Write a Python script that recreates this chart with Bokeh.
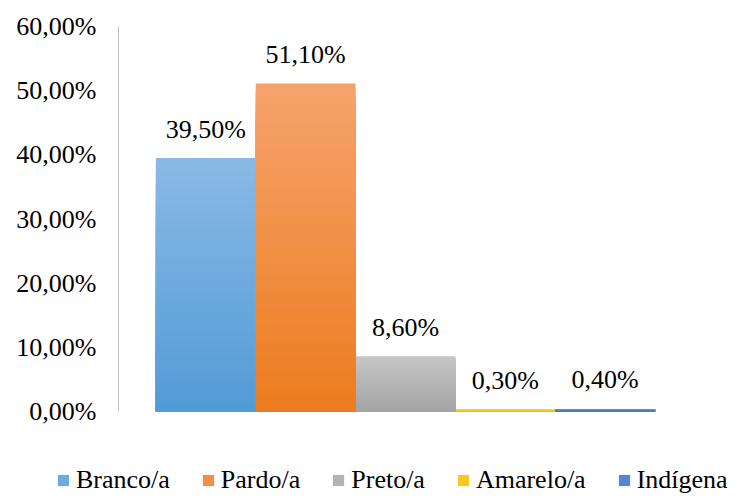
from bokeh.plotting import figure
from bokeh.models import ColumnDataSource, Range1d, FixedTicker, Legend, LegendItem
from bokeh.embed import file_html
from bokeh.resources import INLINE
from bokeh.core.properties import value

categories = ["Branco/a", "Pardo/a", "Preto/a", "Amarelo/a", "Indígena"]
values = [39.5, 51.1, 8.6, 0.3, 0.4]
tick_values = [0, 10, 20, 30, 40, 50, 60]
tick_labels = ["0,00%", "10,00%", "20,00%", "30,00%", "40,00%", "50,00%", "60,00%"]
top_colors = ["#8ab9e6", "#f6a36c", "#c6c6c6", "#ffd24a", "#6f97db"]
bottom_colors = ["#519bd6", "#ec7c1e", "#a3a3a3", "#f5bd00", "#4472c4"]

FONT = value("Liberation Serif")
N = 60


def hex2rgb(h):
    h = h.lstrip("#")
    return tuple(int(h[i:i + 2], 16) for i in (0, 2, 4))


def mix(c1, c2, t):
    a, b = hex2rgb(c1), hex2rgb(c2)
    return "#%02x%02x%02x" % tuple(round(a[i] + (b[i] - a[i]) * t) for i in range(3))


xs = list(range(len(categories)))
left, right, bottom, top, color = [], [], [], [], []
mid_index = []
# gradient: full-height quad in top colour, then successively shorter, darker quads on top
for k in range(N):
    for i, v in enumerate(values):
        if k == N // 2:
            mid_index.append(len(left))
        left.append(xs[i] - 0.5)
        right.append(xs[i] + 0.5)
        bottom.append(0)
        top.append(v * (N - k) / N)
        color.append(mix(top_colors[i], bottom_colors[i], (k + 0.5) / N))

src = ColumnDataSource(dict(left=left, right=right, bottom=bottom, top=top, color=color))

p = figure(width=729, height=430, x_range=Range1d(-0.875, 4.875), y_range=Range1d(0, 60),
           output_backend="svg", toolbar_location=None,
           min_border_left=118, min_border_right=37, min_border_top=26, min_border_bottom=19)

p.quad(left="left", right="right", bottom="bottom", top="top", source=src,
       fill_color="color", line_color=None)

labels = [("%.2f" % v).replace(".", ",") + "%" for v in values]
p.text(x=xs, y=values, text=labels, text_align="center", text_baseline="alphabetic",
       y_offset=-29, text_font=FONT, text_font_size="26px", text_color="#000000")

p.xaxis.visible = False
p.grid.visible = False
p.outline_line_color = None

ya = p.yaxis[0]
ya.ticker = FixedTicker(ticks=tick_values)
ya.major_label_overrides = {t: l for t, l in zip(tick_values, tick_labels)}
ya.axis_line_color = "#bfbfbf"
ya.axis_line_width = 1
ya.major_tick_line_color = None
ya.minor_tick_line_color = None
ya.major_label_standoff = 16
ya.major_label_text_font = "Liberation Serif"
ya.major_label_text_font_size = "26px"
ya.major_label_text_color = "#000000"

# legend strip below the chart (its own frame spans the full width)
leg = figure(width=729, height=66, x_range=Range1d(0, 1), y_range=Range1d(-1000, -999),
             x_axis_type=None, y_axis_type=None, output_backend="svg", toolbar_location=None,
             min_border=0)
leg.grid.visible = False
leg.outline_line_color = None
r2 = leg.quad(left="left", right="right", bottom="bottom", top="top", source=src,
              fill_color="color", line_color=None)

items = [LegendItem(label=c, renderers=[r2], index=mid_index[i]) for i, c in enumerate(categories)]
legend = Legend(items=items, orientation="horizontal", location=(56, 1),
                padding=0, margin=0, spacing=31, label_standoff=6,
                glyph_width=14, glyph_height=14,
                label_text_font="Liberation Serif", label_text_font_size="26px",
                label_text_color="#000000",
                border_line_alpha=0, background_fill_alpha=0)
leg.add_layout(legend)

open("out.html", "w").write(file_html([p, leg], INLINE))
